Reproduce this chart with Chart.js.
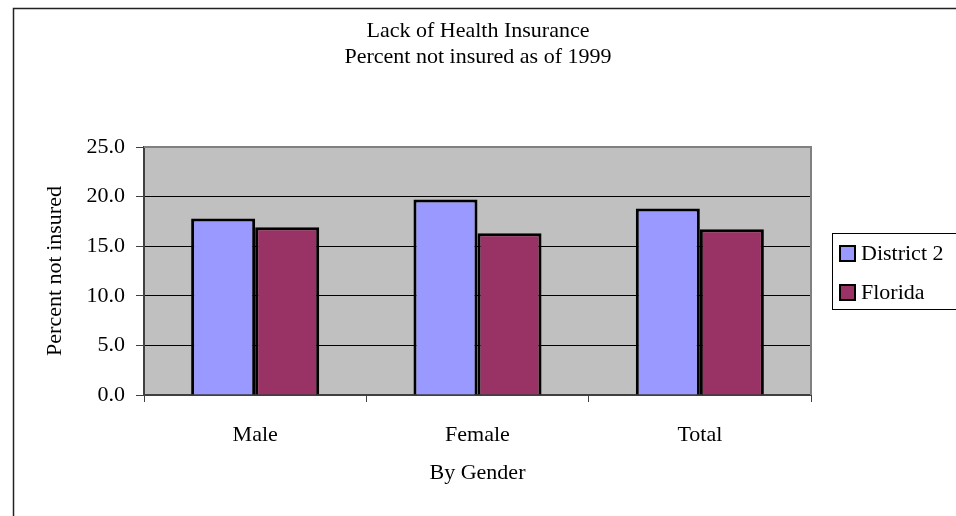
<!DOCTYPE html>
<html>
<head>
<meta charset="utf-8">
<script src="https://cdn.jsdelivr.net/npm/chart.js@4/dist/chart.umd.min.js"></script>
<style>
  html, body { margin: 0; padding: 0; background: #fff; }
  #wrap { width: 956px; height: 516px; }
</style>
</head>
<body>
<div id="wrap"><canvas id="chart" width="956" height="516"></canvas></div>
<script>
const categories = ["Male", "Female", "Total"];
const district2 = [17.8, 19.7, 18.8];
const florida = [16.9, 16.3, 16.7];
const seriesNames = ["District 2", "Florida"];
const yTicks = [0, 5, 10, 15, 20, 25];
const titleLines = ["Lack of Health Insurance", "Percent not insured as of 1999"];

const FONT = "'Liberation Serif', 'Times New Roman', serif";
const FS = 22;

// grey plot area, titles, frame and the boxed legend on the right
const decor = {
    id: "decor",
    beforeDraw(chart) {
        const { ctx, chartArea: a } = chart;
        ctx.save();
        ctx.fillStyle = "#c0c0c0";
        ctx.fillRect(a.left, a.top, a.right - a.left, a.bottom - a.top);
        ctx.restore();
    },
    afterDraw(chart) {
        const { ctx, chartArea: a } = chart;
        ctx.save();
        // plot border (top / right)
        ctx.strokeStyle = "#808080";
        ctx.lineWidth = 2;
        ctx.beginPath();
        ctx.moveTo(a.left, a.top);
        ctx.lineTo(a.right, a.top);
        ctx.lineTo(a.right, a.bottom);
        ctx.stroke();

        // outer chart frame (cropped at right/bottom)
        ctx.strokeStyle = "#222";
        ctx.lineWidth = 1.5;
        ctx.beginPath();
        ctx.moveTo(13.5, 516);
        ctx.lineTo(13.5, 8.5);
        ctx.lineTo(956, 8.5);
        ctx.stroke();

        // titles
        ctx.fillStyle = "#000";
        ctx.font = FS + "px " + FONT;
        ctx.textAlign = "center";
        ctx.textBaseline = "middle";
        titleLines.forEach((t, i) => ctx.fillText(t, 478, 31 + i * 26));

        // legend
        ctx.strokeStyle = "#000";
        ctx.lineWidth = 1;
        ctx.strokeRect(832.5, 233.5, 140, 76);
        ctx.textAlign = "left";
        chart.data.datasets.forEach((ds, i) => {
            const cy = 253 + i * 39;
            ctx.fillStyle = ds.backgroundColor;
            ctx.fillRect(840, cy - 7, 15, 15);
            ctx.lineWidth = 2;
            ctx.strokeStyle = "#000";
            ctx.strokeRect(840, cy - 7, 15, 15);
            ctx.fillStyle = "#000";
            ctx.fillText(ds.label, 861, cy + 1);
        });
        ctx.restore();
    }
};

new Chart(document.getElementById("chart"), {
    type: "bar",
    data: {
        labels: categories,
        datasets: [
            { label: seriesNames[0], data: district2, backgroundColor: "#9999ff", borderColor: "#000", borderWidth: 3 },
            { label: seriesNames[1], data: florida, backgroundColor: "#993366", borderColor: "#000", borderWidth: 3 }
        ]
    },
    options: {
        responsive: false,
        animation: false,
        devicePixelRatio: 1,
        categoryPercentage: 0.576,
        barPercentage: 1,
        layout: { padding: { left: 0, right: 145, top: 147, bottom: 0 } },
        plugins: {
            legend: { display: false },
            tooltip: { enabled: false },
            title: { display: false }
        },
        scales: {
            x: {
                afterFit(s) { s.height = 121; },
                grid: { drawOnChartArea: false, color: "#404040", tickLength: 7 },
                border: { color: "#404040", width: 2 },
                ticks: { color: "#000", font: { family: FONT, size: FS }, padding: 20 },
                title: {
                    display: true, text: "By Gender", color: "#000",
                    font: { family: FONT, size: FS }, padding: { top: 0, bottom: 30 }
                }
            },
            y: {
                min: 0,
                max: 25,
                afterFit(s) { s.width = 144; },
                afterBuildTicks(s) { s.ticks = yTicks.map(v => ({ value: v })); },
                grid: {
                    color: c => (c.tick && (c.tick.value === 0 || c.tick.value === 25)) ? "rgba(0,0,0,0)" : "#000",
                    tickColor: "#404040",
                    tickLength: 8,
                    lineWidth: 1
                },
                border: { color: "#404040", width: 2 },
                ticks: {
                    color: "#000",
                    font: { family: FONT, size: FS },
                    padding: 11,
                    callback: v => Number(v).toFixed(1)
                },
                title: {
                    display: true, text: "Percent not insured", color: "#000",
                    font: { family: FONT, size: FS }, padding: { top: 42, bottom: 0 }
                }
            }
        }
    },
    plugins: [decor]
});
</script>
</body>
</html>
